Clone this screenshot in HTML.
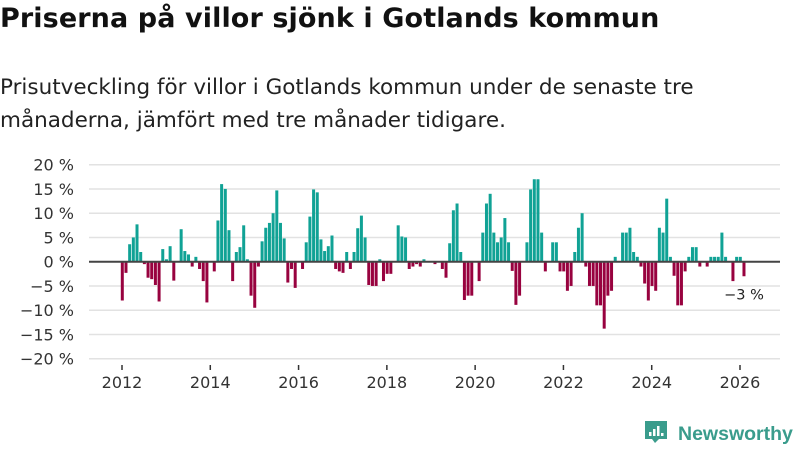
<!DOCTYPE html>
<html><head><meta charset="utf-8">
<style>
body{margin:0;background:#fff;width:800px;height:450px;overflow:hidden;font-family:"Liberation Sans","DejaVu Sans",sans-serif;}
#title{position:absolute;left:0;top:3px;font-family:"DejaVu Sans",sans-serif;font-size:27px;font-weight:bold;color:#111;white-space:nowrap;letter-spacing:0.1px}
#sub{position:absolute;left:0;top:71px;font-family:"DejaVu Sans",sans-serif;font-size:21.5px;line-height:33px;color:#222;white-space:nowrap}
svg{position:absolute;left:0;top:0}
</style></head><body>
<div id="title">Priserna på villor sjönk i Gotlands kommun</div>
<div id="sub">Prisutveckling för villor i Gotlands kommun under de senaste tre<br>månaderna, jämfört med tre månader tidigare.</div>
<svg id="chart" width="800" height="450"></svg>
<script>
const values = [-8,-2.3,3.6,5,7.7,2,-0.5,-3.3,-3.6,-4.8,-8.2,2.6,0.5,3.2,-3.9,0,6.7,2.2,1.5,-1,1,-1.5,-4,-8.4,0,-2,8.5,16,15,6.5,-4,2,3,7.5,0.5,-7,-9.5,-1,4.2,7,8,10,14.7,8,4.8,-4.3,-1.5,-5.4,0,-1.5,4,9.3,14.9,14.3,4.6,2.2,3.2,5.4,-1.5,-2,-2.3,2,-1.5,2,6.9,9.5,5,-4.8,-5,-5,0.5,-4,-2.5,-2.5,0,7.5,5.2,5,-1.5,-1,-0.5,-1,0.5,0,0,-0.5,0,-1.5,-3.3,3.8,10.6,12,2,-7.9,-7,-7,0,-4,6,12,14,6,4,5,9,4,-1.9,-8.9,-7,0,4,14.9,17,17,6,-2,0,4,4,-2,-2,-6,-5,2,7,10,-1,-5,-5,-9,-9,-13.8,-7,-6,1,0,6,6,7,2,1,-1,-4.5,-8,-5,-6,7,6,13,1,-2.9,-9,-9,-2,1,3,3,-1,0,-1,1,1,1,6,1,0,-4,1,1,-3];
const yTicks = [20,15,10,5,0,-5,-10,-15,-20];
const xYears = [2012,2014,2016,2018,2020,2022,2024,2026];
const startYear = 2012;
const NS='http://www.w3.org/2000/svg';
const svg=document.getElementById('chart');
const X0=89,X1=780;
function y(v){return 261.7 - v*4.85;}
function xm(i){return 122.3 + i*(618/168);}
function xy(yr){return 122 + (yr-startYear)*(618/14);}
function mk(t,a){const e=document.createElementNS(NS,t);for(const k in a)e.setAttribute(k,a[k]);svg.appendChild(e);return e;}
yTicks.forEach(t=>{
  const g=mk('line',{x1:X0,x2:X1,y1:y(t),y2:y(t),stroke:'#e2e2e2','stroke-width':1.5});
  
  
  const l=mk('text',{x:74,y:y(t)+6,'text-anchor':'end','font-size':16,fill:'#333','font-family':'DejaVu Sans, sans-serif'});
  l.textContent=(t<0?'\u2212'+(-t):t)+' %';
  
  
});
xYears.forEach(yr=>{
  const tk=mk('line',{x1:xy(yr),x2:xy(yr),y1:365,y2:370,stroke:'#333','stroke-width':1.5});
  
  
  const l=mk('text',{x:xy(yr),y:388,'text-anchor':'middle','font-size':16,fill:'#333','font-family':'DejaVu Sans, sans-serif'});
  l.textContent=yr;
  
  
});
values.forEach((v,i)=>{
  if(v===0)return;
  const top=Math.min(y(v),y(0)),h=Math.abs(y(v)-y(0));
  const b=mk('rect',{x:xm(i)-1.5,y:top,width:3,height:h,fill:v>0?'#10a295':'#98023f'});
  
  
});
const z=mk('line',{x1:X0,x2:X1,y1:y(0),y2:y(0),stroke:'#444','stroke-width':2});


const last=values.length-1;
const an=mk('text',{x:xm(last),y:y(values[last])+23,'text-anchor':'middle','font-size':14.5,fill:'#222','font-family':'DejaVu Sans, sans-serif'});
an.textContent='\u22123 %';


const lg=document.createElementNS(NS,'g');svg.appendChild(lg);
lg.innerHTML='<path d="M645 421h22v18h-8l-4 4-3-4h-7z" fill="#3a9c8c"/><rect x="649" y="432" width="2.5" height="4" fill="#fff"/><rect x="653" y="429" width="2.5" height="7" fill="#fff"/><rect x="657" y="426" width="2.5" height="10" fill="#fff"/><rect x="661" y="433" width="2.5" height="3" fill="#fff"/><text x="678" y="440" font-size="19.5" fill="#3a9c8c" font-weight="bold">Newsworthy</text>';
</script>
</body></html>
